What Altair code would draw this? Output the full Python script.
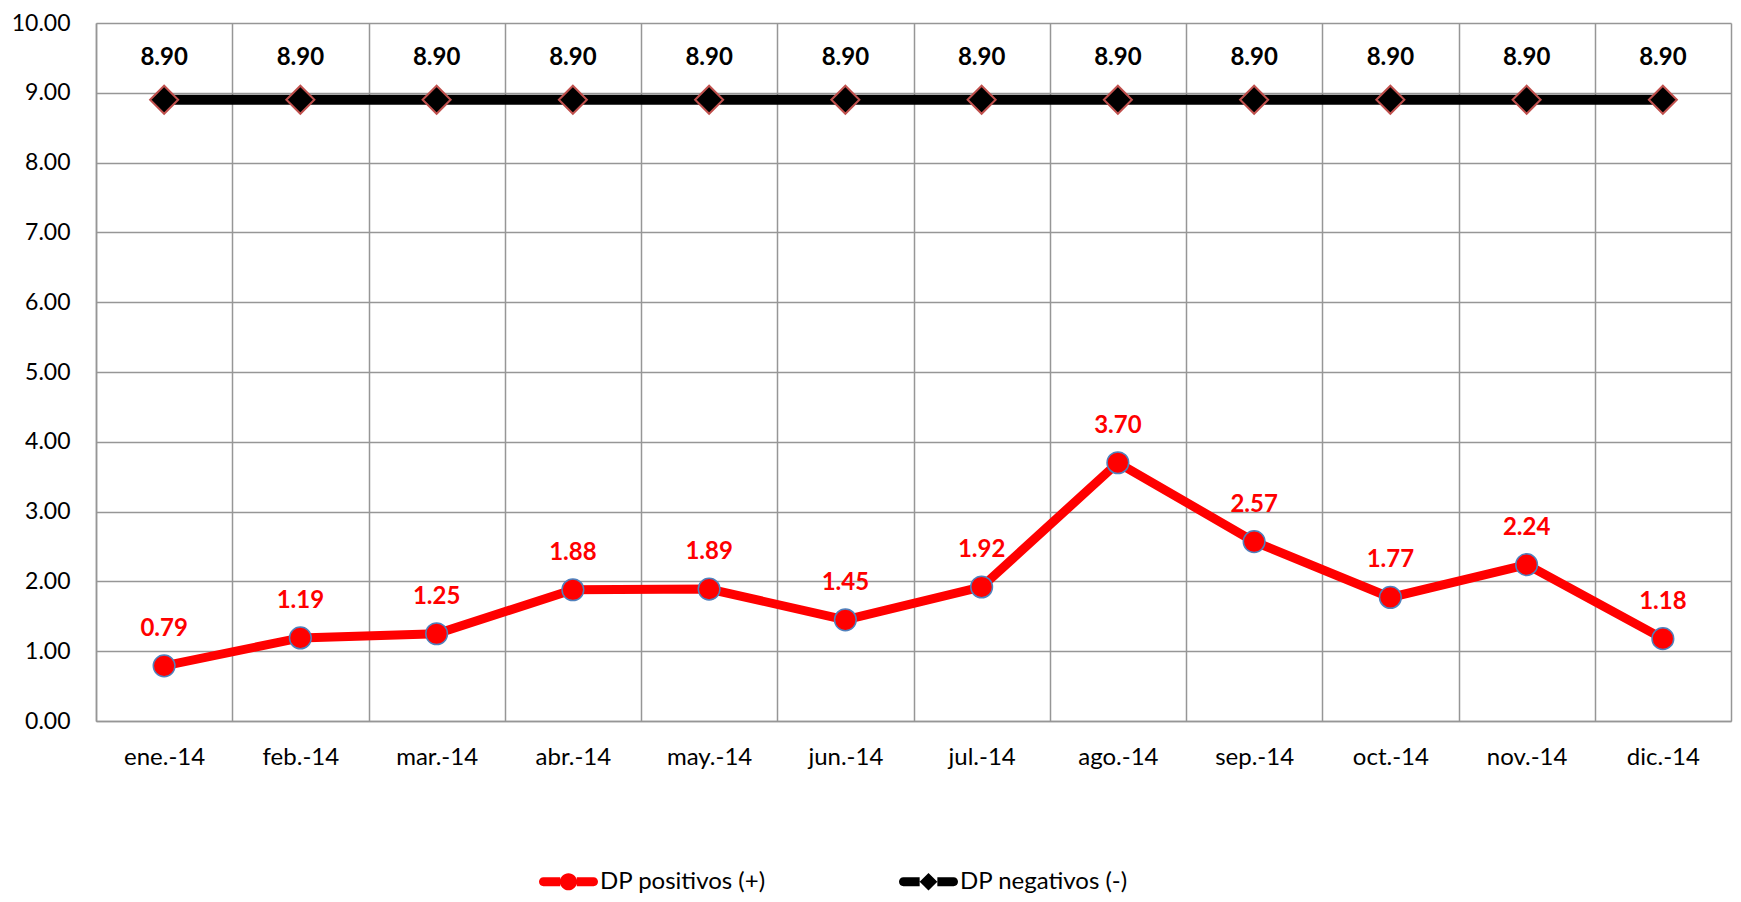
import altair as alt
import pandas as pd

months = ["ene.-14", "feb.-14", "mar.-14", "abr.-14", "may.-14", "jun.-14",
          "jul.-14", "ago.-14", "sep.-14", "oct.-14", "nov.-14", "dic.-14"]
dp_positivos = [0.79, 1.19, 1.25, 1.88, 1.89, 1.45, 1.92, 3.70, 2.57, 1.77, 2.24, 1.18]
dp_negativos = [8.90, 8.90, 8.90, 8.90, 8.90, 8.90, 8.90, 8.90, 8.90, 8.90, 8.90, 8.90]
series_names = ["DP positivos (+)", "DP negativos (-)"]
series_colors = ["#ff0000", "#000000"]
y_ticks = [0, 1, 2, 3, 4, 5, 6, 7, 8, 9, 10]

FONT = "Lato"
GRID = "#969696"

pos_df = pd.DataFrame({"mes": months, "valor": dp_positivos, "serie": series_names[0]})
neg_df = pd.DataFrame({"mes": months, "valor": dp_negativos, "serie": series_names[1]})
df = pd.concat([pos_df, neg_df], ignore_index=True)

x = alt.X("mes:N", sort=months,
          scale=alt.Scale(type="band", paddingInner=0, paddingOuter=0),
          axis=alt.Axis(title=None, tickBand="extent", grid=True, ticks=False,
                        labelAngle=0, labelPadding=24, labelFontSize=24, labelFont=FONT,
                        labelColor="black", domainColor=GRID, domainWidth=1.5,
                        gridColor=GRID, gridWidth=1.5))
y = alt.Y("valor:Q", scale=alt.Scale(domain=[0, 10], nice=False),
          axis=alt.Axis(title=None, values=y_ticks, format=".2f", grid=True, ticks=False,
                        labelPadding=26, labelFontSize=23, labelFont=FONT, labelColor="black",
                        domainColor=GRID, domainWidth=1.5, gridColor=GRID, gridWidth=1.5))

pos = alt.Chart(pos_df)
neg = alt.Chart(neg_df)

red_line = pos.mark_line(color="#ff0000", strokeWidth=9).encode(x=x, y=y)
red_pts = pos.mark_point(filled=True, shape="circle", size=470, fill="#ff0000",
                         stroke="#4f81bd", strokeWidth=1.5, opacity=1).encode(x=x, y=y)
red_txt = pos.mark_text(dy=-37, fontSize=24, fontWeight="bold", font=FONT,
                        color="#ff0000").encode(x=x, y=y, text=alt.Text("valor:Q", format=".2f"))

blk_line = neg.mark_line(color="#000000", strokeWidth=10).encode(x=x, y=y)
blk_pts = neg.mark_point(filled=True, shape="diamond", size=784, fill="#000000",
                         stroke="#c0504d", strokeWidth=2, opacity=1).encode(x=x, y=y)
blk_txt = neg.mark_text(dy=-42, fontSize=24, fontWeight="bold", font=FONT,
                        color="#000000").encode(x=x, y=y, text=alt.Text("valor:Q", format=".2f"))

legend_paths = [
    "M-0.85,-0.15L-0.28,-0.15L-0.28,0.15L-0.85,0.15A0.15,0.15,0,0,1,-0.85,-0.15Z "
    "M0.28,-0.15L0.85,-0.15A0.15,0.15,0,0,1,0.85,0.15L0.28,0.15Z "
    "M0.29,0A0.29,0.29,0,1,1,-0.29,0A0.29,0.29,0,1,1,0.29,0Z",
    "M-0.85,-0.15L-0.3,-0.15L-0.3,0.15L-0.85,0.15A0.15,0.15,0,0,1,-0.85,-0.15Z "
    "M0.3,-0.15L0.85,-0.15A0.15,0.15,0,0,1,0.85,0.15L0.3,0.15Z "
    "M-0.3,0L0,-0.3L0.3,0L0,0.3Z",
]
leg = alt.Legend(title=None, orient="none", legendX=443, legendY=829, direction="horizontal",
                 symbolSize=3481, symbolStrokeWidth=0, symbolOpacity=1,
                 labelFont=FONT, labelFontSize=24, labelColor="black", labelOffset=2,
                 labelLimit=500, columnPadding=133, padding=0)
legend_layer = alt.Chart(df).mark_point(filled=True, opacity=0).encode(
    x=x, y=y,
    color=alt.Color("serie:N", scale=alt.Scale(domain=series_names, range=series_colors), legend=leg),
    shape=alt.Shape("serie:N", scale=alt.Scale(domain=series_names, range=legend_paths), legend=leg),
)

chart = alt.layer(red_line, blk_line, red_pts, blk_pts, red_txt, blk_txt, legend_layer).properties(
    width=1635, height=698, autosize="none",
    padding={"left": 88, "top": 15, "right": 2, "bottom": 173},
    background="white",
).configure_view(stroke=None)

chart.save("out.html", embed_options={"renderer": "svg", "actions": False})
